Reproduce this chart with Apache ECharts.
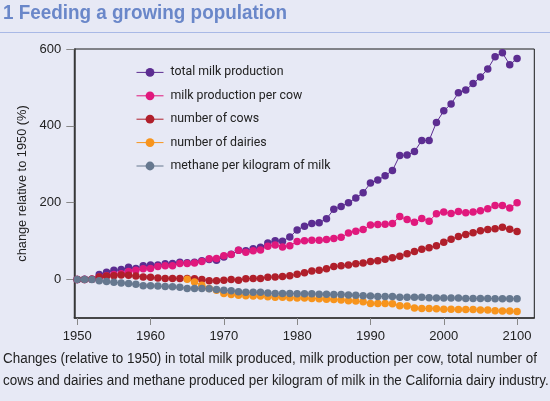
<!DOCTYPE html>
<html>
<head>
<meta charset="utf-8">
<script src="https://cdn.jsdelivr.net/npm/echarts@6/dist/echarts.min.js"></script>
<style>
html,body{margin:0;padding:0;background:#e7e9f5;}
#c{width:550px;height:401px;}
</style>
</head>
<body>
<div id="c"></div>
<script>
const years = [];
for (let y = 1950; y <= 2010; y++) years.push(y);

const totalMilk = [0,1,1,13,19,24,26,32,29,36,38,38,41,42,45,44,45,49,52,50,
  59,66,76,75,80,84,95,101,100,111,129,139,146,148,158,183,190,200,212,226,
  251,259,270,284,323,324,333,362,362,409,439,457,486,493,510,527,548,580,590,559,575];
const milkPerCow = [0,0,1,7,10,13,15,21,24,28,29,34,36,36,42,42,43,47,54,55,
  62,65,76,71,75,77,87,90,85,88,99,101,102,102,104,107,110,121,126,130,
  142,143,144,146,164,156,149,159,152,171,176,172,177,174,176,179,184,193,193,186,200];
const numCows = [0,0,1,7,9,10,12,11,9,7,6,4,3,3,3,3,2,0,-3,-3,
  -2,0,-2,2,3,3,6,7,8,10,14,18,22,24,28,34,36,38,41,43,
  47,49,53,57,61,67,73,79,83,88,97,105,112,117,122,127,130,132,136,131,125];
const numDairies = [null,null,null,null,null,null,null,null,null,null,null,null,null,null,null,1,-6,-15,-23,-28,
  -36,-39,-41,-42,-43,-43,-45,-46,-46,-47,-48,-48,-49,-50,-51,-52,-53,-55,-56,-58,
  -62,-62,-62,-63,-68,-69,-74,-75,-75,-76,-77,-77,-78,-78,-78,-79,-79,-81,-82,-82,-83];
const methane = [0,0,0,-3,-5,-7,-9,-10,-12,-16,-16,-17,-18,-19,-20,-23,-23,-23,-24,-26,
  -28,-29,-32,-33,-33,-33,-35,-36,-36,-36,-37,-37,-37,-38,-38,-39,-39,-40,-41,-42,
  -43,-44,-44,-44,-46,-46,-46,-46,-47,-48,-48,-48,-48,-49,-49,-49,-49,-50,-50,-50,-50];

const seriesNames = ['total milk production','milk production per cow','number of cows','number of dairies','methane per kilogram of milk'];
const seriesColors = ['#5c2d91','#e0197d','#b01f2b','#f7941d','#66788f'];
const seriesValues = [totalMilk, milkPerCow, numCows, numDairies, methane];

const xTickValues = [1950,1960,1970,1980,1990,2000,2010];
const xTickLabels = ['1950','1960','1970','1980','1990','2000','2100'];
const yTickValues = [0,200,400,600];

const titleText = '1 Feeding a growing population';
const yAxisTitle = 'change relative to 1950 (%)';
const caption1 = 'Changes (relative to 1950) in total milk produced, milk production per cow, total number of';
const caption2 = 'cows and dairies and methane produced per kilogram of milk in the California dairy industry.';

const sans = '"Liberation Sans",Arial,sans-serif';
const ctx = document.createElement('canvas').getContext('2d');
function measure(t, f){ ctx.font = f; return ctx.measureText(t).width; }

const titleFont = 'bold 20px ' + sans;
const titleScale = 284 / measure(titleText, titleFont);
const capFont = '14px ' + sans;
const capScale = 534 / measure(caption1, capFont);
const legendFamily = 'Roboto';
const legendSize = Math.min(14, 13 * 113 / measure(seriesNames[0], '13px Roboto'));

const chart = echarts.init(document.getElementById('c'), null, {renderer:'canvas'});
chart.setOption({
  animation:false,
  backgroundColor:'#e7e9f5',
  grid:{left:74.3, right:15.7, top:49, bottom:83, show:true, borderColor:'#1a1a1a', borderWidth:1, backgroundColor:'transparent'},
  xAxis:{
    type:'value', min:1949.6, max:2012.35,
    splitLine:{show:false},
    axisLine:{show:true, onZero:false, lineStyle:{color:'#333', width:1.5}},
    axisTick:{show:true, length:7, customValues:xTickValues, lineStyle:{color:'#888'}},
    axisLabel:{customValues:xTickValues, margin:12, color:'#222', fontSize:13, fontFamily:sans,
      formatter:function(v){const i=xTickValues.indexOf(Math.round(v)); return i>=0?xTickLabels[i]:'';}}
  },
  yAxis:{
    type:'value', min:-100, max:600,
    splitLine:{show:false},
    name:yAxisTitle, nameLocation:'middle', nameRotate:90, nameGap:44,
    nameTextStyle:{color:'#222', fontSize:12.8, fontFamily:sans},
    axisLine:{show:true, lineStyle:{color:'#333', width:1.5}},
    axisTick:{show:true, length:8, customValues:yTickValues, lineStyle:{color:'#888'}},
    axisLabel:{customValues:yTickValues, margin:13, color:'#222', fontSize:13, fontFamily:sans}
  },
  legend:{
    orient:'vertical', left:136, top:65.4, padding:0, itemWidth:27, itemHeight:11, itemGap:9.4,
    lineStyle:{width:1},
    textStyle:{color:'#222', fontSize:legendSize, fontFamily:legendFamily, lineHeight:14, padding:[0,0,0,2]},
    data:seriesNames
  },
  series: seriesNames.map((n,i)=>({
    name:n, type:'line', symbol:'circle', symbolSize:7.5, showSymbol:true,
    color:seriesColors[i],
    lineStyle:{width:1, color:seriesColors[i]},
    itemStyle:{color:seriesColors[i]},
    emphasis:{disabled:true},
    data: years.map((y,j)=>[y, seriesValues[i][j]])
  })),
  graphic:[
    {type:'text', x:3, y:3, scaleX:titleScale, originX:0, style:{text:titleText, fill:'#6a87c9', font:titleFont}},
    {type:'line', shape:{x1:0,y1:32.5,x2:550,y2:32.5}, style:{stroke:'#a9b9e6', lineWidth:1}},
    {type:'text', x:3, y:352, scaleX:capScale, originX:0, style:{text:caption1, fill:'#222', font:capFont}},
    {type:'text', x:3, y:374, scaleX:capScale, originX:0, style:{text:caption2, fill:'#222', font:capFont}}
  ]
});
</script>
</body>
</html>
